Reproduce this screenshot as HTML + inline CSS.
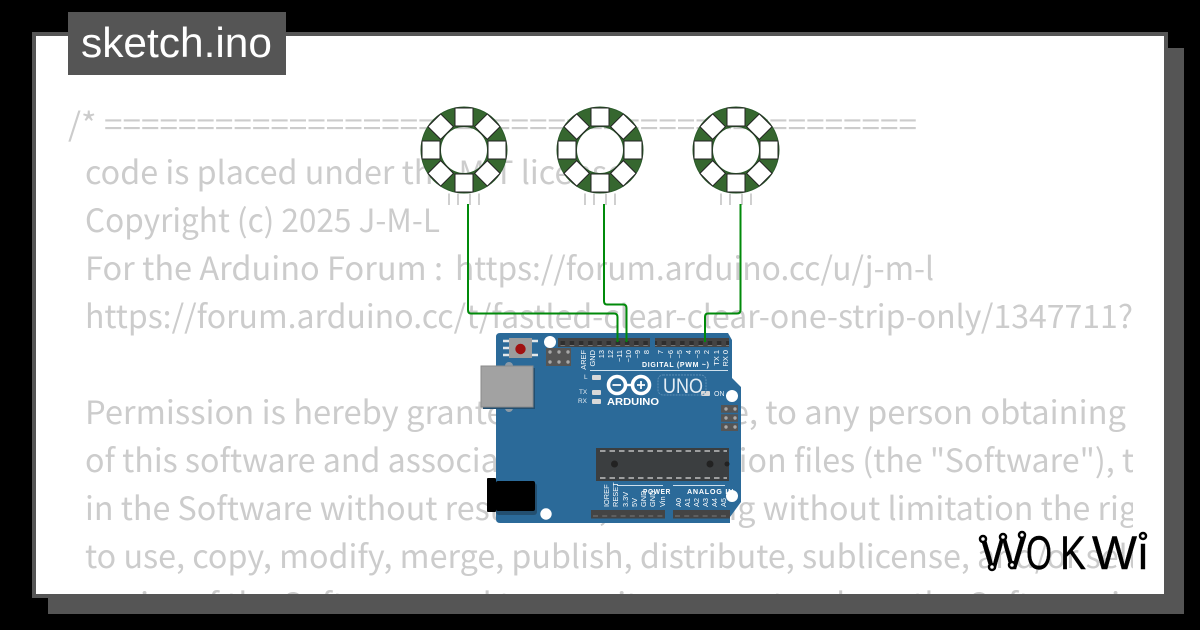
<!DOCTYPE html>
<html>
<head>
<meta charset="utf-8">
<style>
html,body{margin:0;padding:0;background:#000;width:1200px;height:630px;overflow:hidden}
svg{display:block}
.code{font-family:"Noto Sans CJK JP","DejaVu Sans",sans-serif;font-size:32px;fill:#ccc}
.l{font-family:"Liberation Sans",sans-serif;font-size:7.4px;fill:#fff;text-anchor:end}
.s{font-family:"Liberation Sans",sans-serif;font-size:6.4px;fill:#e8eef4}
.b{font-family:"Liberation Sans",sans-serif;font-size:7px;font-weight:bold;fill:#fff;letter-spacing:.7px}
.w{font-family:"Liberation Sans",sans-serif;font-size:47px;fill:#000;stroke:#000;stroke-width:.4}
</style>
</head>
<body>
<svg width="1200" height="630" viewBox="0 0 1200 630" xmlns="http://www.w3.org/2000/svg">
<defs>
<clipPath id="c"><rect x="36" y="36" width="1097" height="558"/></clipPath>
<pattern id="hp" x="558" y="338" width="9.2" height="9" patternUnits="userSpaceOnUse">
<rect width="9.2" height="9" fill="#444"/><rect x="2.5" y="3" width="4.5" height="4.5" fill="#2e2e2e"/><rect x="2.5" y="7" width="4.5" height="1" fill="#777"/>
</pattern>
<g id="sq"><rect x="-9" y="-42" width="18" height="18" fill="#fff" stroke="#222" stroke-width="1"/></g>
<g id="ring">
<path d="M-43 0A43 43 0 1 1 43 0A43 43 0 1 1 -43 0ZM-23.500 0A23.500 23.500 0 1 0 23.500 0A23.500 23.500 0 1 0 -23.500 0Z" fill="#36672f" fill-rule="evenodd" stroke="#2a5a2a" stroke-width="1"/>
<use href="#sq"/>
<use href="#sq" transform="rotate(45)"/>
<use href="#sq" transform="rotate(90)"/>
<use href="#sq" transform="rotate(135)"/>
<use href="#sq" transform="rotate(180)"/>
<use href="#sq" transform="rotate(225)"/>
<use href="#sq" transform="rotate(270)"/>
<use href="#sq" transform="rotate(315)"/>
<g stroke="#bbb" stroke-width="1.400"><path d="M-15 43.500V55M-6 43.500V55M6 43.500V55M15 43.500V55"/></g>
</g>
</defs>

<rect x="48" y="48" width="1136" height="566" fill="#555"/>
<rect x="34" y="34" width="1132" height="562" fill="#fff" stroke="#555" stroke-width="4"/>

<g clip-path="url(#c)" class="code">
<text x="68" y="136" textLength="849" lengthAdjust="spacingAndGlyphs">/* ============================================</text>
<text x="85" y="184" textLength="540" lengthAdjust="spacingAndGlyphs">code is placed under the MIT license</text>
<text x="85" y="232" textLength="355" lengthAdjust="spacingAndGlyphs">Copyright (c) 2025 J-M-L</text>
<text x="85" y="280" textLength="358" lengthAdjust="spacingAndGlyphs">For the Arduino Forum :</text>
<text x="455" y="280" textLength="479" lengthAdjust="spacingAndGlyphs">https://forum.arduino.cc/u/j-m-l</text>
<text x="85" y="328" textLength="1048" lengthAdjust="spacingAndGlyphs">https://forum.arduino.cc/t/fastled-clear-clear-one-strip-only/1347711?</text>
<text x="85" y="424" textLength="1041" lengthAdjust="spacingAndGlyphs">Permission is hereby granted, free of charge, to any person obtaining</text>
<text x="85" y="472" textLength="1049" lengthAdjust="spacingAndGlyphs">of this software and associated documentation files (the "Software"), t</text>
<text x="85" y="520" textLength="1052" lengthAdjust="spacingAndGlyphs">in the Software without restriction, including without limitation the rig</text>
<text x="85" y="568" textLength="1052" lengthAdjust="spacingAndGlyphs">to use, copy, modify, merge, publish, distribute, sublicense, and/or sell</text>
<text x="85" y="616" textLength="1050" lengthAdjust="spacingAndGlyphs">copies of the Software, and to permit persons to whom the Software is</text>
</g>

<rect x="68" y="12" width="218" height="63" fill="#555"/>
<text x="81" y="57" font-family="Liberation Sans,sans-serif" font-size="42" fill="#fff" textLength="191" lengthAdjust="spacingAndGlyphs">sketch.ino</text>

<use href="#ring" x="464" y="150"/>
<use href="#ring" x="600" y="150"/>
<use href="#ring" x="736" y="150"/>

<!-- Arduino board -->
<path d="M500 333H728L732 340V378L741 387V502L730 517V523H500Q496 523 496 519V337Q496 333 500 333Z" fill="#2b6a99"/>

<!-- reset button -->
<path d="M503 341H538M503 348H509M503 355H538" stroke="#e4e8ea" stroke-width="2.400"/>
<rect x="509" y="338" width="23" height="20" fill="#9c9c9c"/>
<circle cx="520.500" cy="349" r="5.200" fill="#a01010"/>
<circle cx="550" cy="342" r="6" fill="#fff"/>

<!-- top headers -->
<rect x="558" y="338" width="92" height="9" fill="url(#hp)"/>
<rect x="655" y="338" width="74" height="9" fill="url(#hp)"/>

<!-- ICSP -->
<rect x="546" y="348" width="25" height="18" fill="#555"/>
<g fill="#a8a8a8"><circle cx="550" cy="352" r="1.700"/><circle cx="559" cy="352" r="1.700"/><circle cx="568" cy="352" r="1.700"/><circle cx="550" cy="362" r="1.700"/><circle cx="559" cy="362" r="1.700"/><circle cx="568" cy="362" r="1.700"/></g>

<!-- USB -->
<circle cx="509" cy="366" r="4" fill="#8c9aa6"/>
<circle cx="509" cy="408" r="4" fill="#8c9aa6"/>
<rect x="483" y="368" width="52" height="41" fill="#234f70"/>
<rect x="481" y="366" width="52" height="41" fill="#a2a2a2" stroke="#8a8a8a" stroke-width="1"/>

<!-- top labels -->
<g class="l">
<text transform="translate(586,350) rotate(-90)">AREF</text>
<text transform="translate(595,350) rotate(-90)">GND</text>
<text transform="translate(604,350) rotate(-90)">13</text>
<text transform="translate(613,350) rotate(-90)">12</text>
<text transform="translate(622,350) rotate(-90)">~11</text>
<text transform="translate(631,350) rotate(-90)">~10</text>
<text transform="translate(640,350) rotate(-90)">~9</text>
<text transform="translate(649,350) rotate(-90)">8</text>
<text transform="translate(663,350) rotate(-90)">7</text>
<text transform="translate(673,350) rotate(-90)">~6</text>
<text transform="translate(682,350) rotate(-90)">~5</text>
<text transform="translate(691,350) rotate(-90)">4</text>
<text transform="translate(700,350) rotate(-90)">~3</text>
<text transform="translate(709,350) rotate(-90)">2</text>
<text transform="translate(719,350) rotate(-90)">TX 1</text>
<text transform="translate(728,350) rotate(-90)">RX 0</text>
</g>
<text x="642" y="367" class="b">DIGITAL (PWM ~)</text>
<path d="M590 370.500H728" stroke="#cfe0ec" stroke-width="1"/>

<!-- LEDs -->
<g fill="#d8d8d8">
<rect x="592" y="375" width="9" height="5" rx="1"/>
<rect x="592" y="390" width="9" height="5" rx="1"/>
<rect x="592" y="399" width="9" height="5" rx="1"/>
<rect x="701" y="391" width="9" height="5" rx="1"/>
</g>
<g class="s">
<text x="584" y="379">L</text>
<text x="579" y="394">TX</text>
<text x="578" y="403">RX</text>
<text x="714" y="396" font-size="7">ON</text>
</g>

<!-- logo -->
<g fill="none" stroke="#fff" stroke-width="3.600">
<circle cx="617" cy="385" r="8.500"/>
<circle cx="641" cy="385" r="8.500"/>
<path d="M624 385H634" stroke-width="2.400"/>
</g>
<path d="M612.500 385H621M637 385H645M641 381V389" stroke="#fff" stroke-width="1.800"/>
<text x="607" y="405" font-family="Liberation Sans,sans-serif" font-size="10.500" font-weight="bold" fill="#fff" textLength="52" lengthAdjust="spacingAndGlyphs">ARDUINO</text>
<rect x="658" y="375" width="48" height="20" rx="5" fill="none" stroke="#5d8fb5" stroke-width="1" stroke-dasharray="2 1"/>
<text x="663" y="393" font-family="Liberation Sans,sans-serif" font-size="21" fill="#e4edf4" textLength="40" lengthAdjust="spacingAndGlyphs">UNO</text>

<circle cx="732" cy="396" r="6" fill="#fff"/>
<rect x="721" y="405" width="17" height="26" fill="#555"/>
<path d="M721 413.500H738M721 422.500H738" stroke="#2b6a99" stroke-width="1.500"/>
<g fill="#a8a8a8"><circle cx="726" cy="409" r="1.700"/><circle cx="735" cy="409" r="1.700"/><circle cx="726" cy="418" r="1.700"/><circle cx="735" cy="418" r="1.700"/><circle cx="726" cy="427" r="1.700"/><circle cx="735" cy="427" r="1.700"/></g>

<!-- IC -->
<rect x="596" y="448" width="133" height="33" fill="#3b3e40"/>
<path d="M600 451H727M600 478H727" stroke="#d8d8d8" stroke-width="1.300" stroke-dasharray="5.500 4"/>
<g fill="#222"><circle cx="614.500" cy="464" r="3.500"/><circle cx="710" cy="464" r="3.500"/><circle cx="727" cy="464" r="2.500"/></g>

<!-- barrel jack -->
<rect x="496" y="483" width="41" height="32" rx="3" fill="#234f70"/>
<rect x="487" y="478" width="9" height="34" rx="1" fill="#000"/>
<rect x="496" y="481" width="39" height="30" rx="2" fill="#000"/>
<circle cx="546" cy="514" r="5.700" fill="#fff"/>

<!-- bottom headers -->
<rect x="591" y="510" width="74" height="8.500" fill="#444"/>
<rect x="673" y="510" width="57" height="8.500" fill="#444"/>
<path d="M593 516H665M675 516H730" stroke="#777" stroke-width="1" stroke-dasharray="5 4.200"/>

<!-- bottom labels -->
<path d="M617 485.500H663M673 485.500H725" stroke="#cfe0ec" stroke-width="1"/>
<text x="643" y="494" class="b" textLength="28" lengthAdjust="spacingAndGlyphs">POWER</text>
<text x="687" y="494" class="b" textLength="47" lengthAdjust="spacingAndGlyphs">ANALOG IN</text>
<g class="l" style="text-anchor:start">
<text transform="translate(609,507) rotate(-90)">IOREF</text>
<text transform="translate(618,507) rotate(-90)">RESET</text>
<text transform="translate(628,507) rotate(-90)">3.3V</text>
<text transform="translate(637,507) rotate(-90)">5V</text>
<text transform="translate(646,507) rotate(-90)">GND</text>
<text transform="translate(655,507) rotate(-90)">GND</text>
<text transform="translate(665,507) rotate(-90)">Vin</text>
<text transform="translate(681,507) rotate(-90)">A0</text>
<text transform="translate(690,507) rotate(-90)">A1</text>
<text transform="translate(699,507) rotate(-90)">A2</text>
<text transform="translate(708,507) rotate(-90)">A3</text>
<text transform="translate(717,507) rotate(-90)">A4</text>
<text transform="translate(726,507) rotate(-90)">A5</text>
</g>
<circle cx="732" cy="496" r="6" fill="#fff"/>

<!-- wires -->
<g fill="none" stroke="#008a0a" stroke-width="2">
<path d="M468 204V310Q468 313.500 471 313.500H614Q617.500 313.500 617.500 317V342"/>
<path d="M604 204V301Q604 304.500 607 304.500H623Q626.500 304.500 626.500 308V342"/>
<path d="M740.500 204V310Q740.500 313.500 737 313.500H708Q705 313.500 705 317V342"/>
</g>

<!-- Wokwi wordmark -->
<text class="w" x="980" y="569" textLength="46" lengthAdjust="spacingAndGlyphs">W</text>
<text class="w" x="1026" y="569" textLength="26" lengthAdjust="spacingAndGlyphs">O</text>
<text class="w" x="1060" y="569" textLength="26" lengthAdjust="spacingAndGlyphs">K</text>
<text class="w" x="1092" y="569" textLength="45" lengthAdjust="spacingAndGlyphs">W</text>
<text class="w" x="1138" y="569" textLength="10" lengthAdjust="spacingAndGlyphs">i</text>
<g fill="#fff" stroke="#000" stroke-width="2.500">
<circle cx="983" cy="539" r="3"/><circle cx="1003" cy="537" r="3"/><circle cx="1022" cy="535" r="3"/><circle cx="992" cy="567" r="3"/><circle cx="1012" cy="565" r="3"/><circle cx="1143" cy="536" r="3"/>
</g>
</svg>
</body>
</html>
